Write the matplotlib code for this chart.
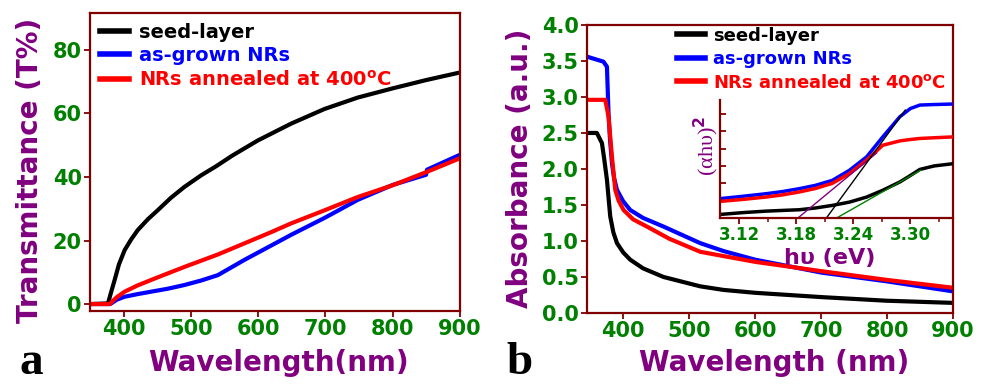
import matplotlib
matplotlib.use('Agg')
import matplotlib.pyplot as plt

# Panel a : transmittance
wl_seed_a = [350, 376.7, 381, 386.6, 393, 401.5, 411, 421, 436, 451, 470, 490.5, 515, 537.6, 562, 599.5,
             649, 698.5, 748, 800, 849.5, 900]
T_seed = [0, 0.2, 3.5, 7.6, 12.5, 17, 20.3, 23.3, 26.7, 29.6, 33.4, 36.9, 40.5, 43.4, 46.8, 51.5,
          56.8, 61.4, 65, 67.9, 70.5, 72.9]
wl_grown_a = [350, 380, 390, 401.5, 420, 441, 465, 490.5, 515, 540, 579.5, 620, 649, 698.5, 748, 800,
              849.5, 851, 900]
T_grown = [0, 0, 1.4, 2.3, 3.1, 3.9, 4.8, 6.0, 7.4, 9.1, 13.9, 18.5, 21.8, 27.1, 32.8, 37.5,
           40.7, 42.3, 47]
wl_ann_a = [350, 379, 390, 401.5, 420, 441, 465, 490.5, 540, 579.5, 620, 649, 698.5, 748, 800, 849.5, 900]
T_ann = [0, 0, 2.2, 3.9, 5.8, 7.6, 9.6, 11.7, 15.6, 19.1, 22.7, 25.4, 29.5, 33.7, 37.4, 41.5, 45.9]

# Panel b : absorbance
wl_seed_b = [345, 360, 367.7, 371, 375.3, 380.3, 385, 390.5, 400, 410.6, 430, 461, 516.7, 552, 600,
             700.9, 799, 900]
A_seed = [2.5, 2.5, 2.36, 2.15, 1.85, 1.34, 1.12, 0.97, 0.84, 0.74, 0.62, 0.5, 0.37, 0.32, 0.28,
          0.22, 0.17, 0.14]
wl_grown_b = [345, 370, 375.3, 377.7, 380, 382.9, 386, 390.5, 400, 410.6, 430, 461, 516.7, 552, 600,
              700.9, 799, 900]
A_grown = [3.56, 3.49, 3.42, 2.77, 2.4, 2.08, 1.88, 1.71, 1.55, 1.43, 1.32, 1.2, 0.97, 0.86, 0.74,
           0.56, 0.44, 0.30]
wl_ann_b = [345, 372.7, 377.7, 380.3, 382.9, 387.9, 393, 400.5, 415, 435.9, 470, 516.7, 552, 600,
            700.9, 799, 900]
A_ann = [2.96, 2.96, 2.73, 2.45, 2.17, 1.71, 1.56, 1.43, 1.3, 1.2, 1.03, 0.85, 0.79, 0.71,
         0.58, 0.46, 0.35]

# inset : tauc plot (arbitrary units)
hv = [3.10, 3.125, 3.148, 3.165, 3.183, 3.2, 3.218, 3.236, 3.254, 3.271, 3.289, 3.30, 3.31, 3.325, 3.345]
tauc_grown = [1.12, 1.26, 1.4, 1.52, 1.69, 1.88, 2.17, 2.75, 3.52, 4.67, 5.83, 6.3, 6.5, 6.53, 6.56]
tauc_ann = [0.96, 1.08, 1.21, 1.33, 1.5, 1.7, 2.0, 2.56, 3.33, 4.19, 4.44, 4.52, 4.58, 4.62, 4.67]
tauc_seed = [0.21, 0.32, 0.4, 0.44, 0.48, 0.58, 0.73, 0.92, 1.21, 1.6, 2.08, 2.45, 2.8, 3.0, 3.13]
fit_purple = ([3.1817, 3.2646], [0, 3.75])
fit_black = ([3.2117, 3.2946], [0, 6.21])
fit_green = ([3.2223, 3.3106], [0, 2.75])

labels = ['seed-layer', 'as-grown NRs', r'NRs annealed at 400$^{\mathbf{o}}$C']
cols = ['black', 'blue', 'red']

spine_c = '#800000'
tick_c = '#008000'
lab_c = '#800080'
serif = 'Liberation Serif'

plt.rcParams['font.family'] = 'DejaVu Sans'
plt.rcParams['font.weight'] = 'bold'
plt.rcParams['mathtext.fontset'] = 'dejavusans'


def style(ax, fs=15):
    for s in ax.spines.values():
        s.set_color(spine_c)
        s.set_linewidth(1.6)
    ax.tick_params(axis='both', colors=spine_c, labelcolor=tick_c, labelsize=fs,
                   direction='out', width=1.3, length=4, pad=2)
    for t in ax.get_xticklabels() + ax.get_yticklabels():
        t.set_fontweight('bold')


def labels_at(ax, xl, yl, xpos, ypos, fs):
    ax.set_xlabel(xl, fontsize=fs, color=lab_c, fontweight='bold')
    ax.set_ylabel(yl, fontsize=fs, color=lab_c, fontweight='bold')
    ax.xaxis.set_label_coords(*xpos)
    ax.yaxis.set_label_coords(*ypos)
    ax.xaxis.label.set_va('center')
    ax.yaxis.label.set_va('center')


fig = plt.figure(figsize=(9.84, 3.84), dpi=100)

# ---------------- panel a
ax1 = fig.add_axes([0.0915, 0.19, 0.376, 0.776])
ax1.plot(wl_seed_a, T_seed, color=cols[0], lw=3, label=labels[0])
ax1.plot(wl_grown_a, T_grown, color=cols[1], lw=3, label=labels[1])
ax1.plot(wl_ann_a, T_ann, color=cols[2], lw=3, label=labels[2])
ax1.set_xlim(350, 900)
ax1.set_ylim(-2.2, 91.6)
ax1.set_xticks([400, 500, 600, 700, 800, 900])
ax1.set_yticks([0, 20, 40, 60, 80])
style(ax1)
labels_at(ax1, 'Wavelength(nm)', 'Transmittance (T%)', (0.51, -0.175), (-0.162, 0.473), 20)
leg = ax1.legend(loc='upper left', frameon=False, fontsize=14, handlelength=1.5,
                 labelspacing=0.22, borderaxespad=0.1, handletextpad=0.5)
for line, txt, c in zip(leg.get_lines(), leg.get_texts(), cols):
    line.set_linewidth(4)
    txt.set_color(c)
fig.text(0.02, 0.025, 'a', fontsize=34, fontweight='bold', family=serif)

# ---------------- panel b
ax2 = fig.add_axes([0.5965, 0.185, 0.372, 0.75])
ax2.plot(wl_seed_b, A_seed, color=cols[0], lw=3, label=labels[0])
ax2.plot(wl_grown_b, A_grown, color=cols[1], lw=3, label=labels[1])
ax2.plot(wl_ann_b, A_ann, color=cols[2], lw=3, label=labels[2])
ax2.set_xlim(345, 900)
ax2.set_ylim(0, 4)
ax2.set_xticks([400, 500, 600, 700, 800, 900])
ax2.set_yticks([0, 0.5, 1, 1.5, 2, 2.5, 3, 3.5, 4])
ax2.set_yticklabels(['%.1f' % v for v in ax2.get_yticks()])
style(ax2)
labels_at(ax2, 'Wavelength (nm)', 'Absorbance (a.u.)', (0.51, -0.174), (-0.183, 0.503), 20)
leg2 = ax2.legend(loc='upper left', bbox_to_anchor=(0.22, 1.025), frameon=False, fontsize=13,
                  handlelength=1.6, labelspacing=0.3, borderaxespad=0.1, handletextpad=0.4)
for line, txt, c in zip(leg2.get_lines(), leg2.get_texts(), cols):
    line.set_linewidth(4)
    txt.set_color(c)
fig.text(0.515, 0.025, 'b', fontsize=34, fontweight='bold', family=serif)

# ---------------- inset
ax3 = fig.add_axes([0.7317, 0.432, 0.237, 0.308])
ax3.plot(hv, tauc_seed, color='black', lw=2.5)
ax3.plot(hv, tauc_grown, color='blue', lw=2.5)
ax3.plot(hv, tauc_ann, color='red', lw=2.5)
ax3.plot(*fit_purple, color='purple', lw=1)
ax3.plot(*fit_black, color='black', lw=1)
ax3.plot(*fit_green, color='green', lw=1)
ax3.set_xlim(3.10, 3.345)
ax3.set_ylim(0, 6.8)
ax3.set_xticks([3.12, 3.18, 3.24, 3.30])
ax3.set_xticks([3.15, 3.21, 3.27, 3.33], minor=True)
ax3.set_yticks([1, 2, 3, 4, 5, 6])
ax3.set_yticklabels([])
style(ax3, fs=12)
ax3.spines['top'].set_visible(False)
ax3.spines['right'].set_visible(False)
ax3.tick_params(axis='y', direction='in', length=4)
ax3.tick_params(axis='x', which='minor', colors=spine_c, direction='out', length=3, width=1.1)
ax3.patch.set_alpha(0)
ax3.set_xlabel('h\u03c5 (eV)', fontsize=16, color=lab_c, fontweight='bold')
ax3.xaxis.set_label_coords(0.47, -0.34)
ax3.xaxis.label.set_va('center')
ax3.set_ylabel('(\u03b1h\u03c5)$^2$', fontsize=16, color=lab_c, family=serif, fontweight='normal')
ax3.yaxis.set_label_coords(-0.06, 0.61)
ax3.yaxis.label.set_va('center')

fig.savefig('out.png', dpi=100)
